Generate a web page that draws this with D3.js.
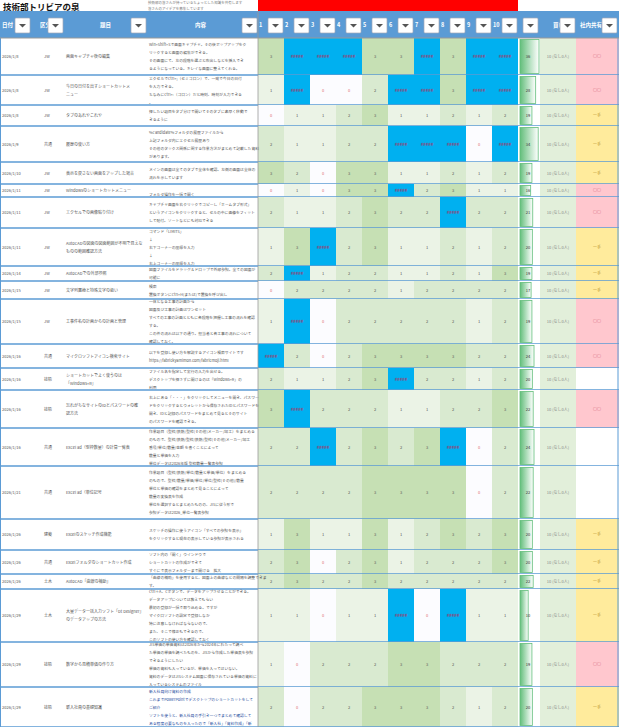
<!DOCTYPE html>
<html lang="ja">
<head>
<meta charset="utf-8">
<script src="https://d3js.org/d3.v7.min.js"></script>
<style>
body{margin:0;background:#fff;font-family:"Noto Sans CJK JP",sans-serif}
</style>
</head>
<body>
<script>
const dates = ["2026/1/8","2026/1/8","2026/1/8","2026/1/9","2026/1/10","2026/1/11","2026/1/11","2026/1/11","2026/1/14","2026/1/15","2026/1/15","2026/1/16","2026/1/16","2026/1/16","2026/1/16","2026/1/21","2026/1/26","2026/1/26","2026/1/26","2026/1/29","2026/1/29","2026/1/29"];
const kinds = ["JW","JW","JW","共通","JW","JW","JW","JW","JW","JW","JW","共通","技術","技術","共通","共通","建築","共通","土木","土木","技術","技術"];
const titles = [
  ["画面キャプチャ後の編集"],["今日の日付を出すショートカットメ","ニュー"],["タブのあれやこれや"],["履歴の使い方"],
  ["表示を戻さない画面をアップした場合"],["Windowsのショートカットメニュー"],["エクセルでの画像貼り付け"],
  ["AutoCADの図面の図面範囲が不明で見えな","ものの範囲確認方法"],["AutoCADでの外部参照"],["文字列置換と特殊文字の扱い"],
  ["工事件名の計画からの計画と管理"],["マイクロソフトアイコン検索サイト"],["ショートカットでよく使うのは","「Windows+R」"],
  ["忘れがちなサイトのIDとパスワードの確","認方法"],["ExCel ad（型枠数量）の計算一覧表"],["ExCel ad（単位記号"],
  ["Excelのスケッチ作成機能"],["Excelフォルダのショートカット作成"],["AutoCAD「曲線の補助」"],
  ["大量データ一括入力ソフト「Dt Designer」","のデータアップの方法"],["数字から見積単価の作り方"],["新入社員の基礎知識"]];
const contents = [
  ["Win+Shift+Sで画面キャプチャ。その後ポップアップをク","リックすると画面の編集ができる。","その画面にて、左の段階を選ぶと吹出しなどを挿入でき","るようになっている。キレイな画面に整えてくれる。"],
  ["エクセルでCtrl+;（セミコロン）で、一発で今日の日付","を入力できる。","ちなみにCtrl+:（コロン）だと時刻、時刻が入力できる","。"],
  ["探したい項目をタブ分けで開いてそのタブに素早く移動で","きるように"],
  ["%Candidate%フォルダの履歴ファイルから","上記フォルダ内にエクセル履歴あり","その他のタックス関係に関する作業方法がまとめて記載した資料","があります。"],
  ["メインの画面は全てのタブで全体を確認。左側の画面は全体の","流れを示しています"],
  ["","フォルダ操作を一括で開く"],
  ["キャプチャ画面を右クリックでコピーし「ホームタブ形式」","というアイコンをクリックすると、セルの中に画像をフィット","して貼付。ソートなどにも対応できる"],
  ["コマンド「LIMITS」","↓","右下コーナーの座標を入力","↓","右上コーナーの座標を入力"],
  ["図面ファイルをドラッグ＆ドロップで外部参照。全ての図面が","可能に"],
  ["検索","置換ボタンにCtrl+H(または)で置換を呼び出し"],
  ["一体となる工事の計画から","図面及び工事の計画はワンセット","すべての工事の計画とともに各段階を把握し工事の流れを確認","する。","この件の流れは以下の通り。担当者と各工事の流れについて","確認しておく。"],
  ["以下を登録し使い方を解説するアイコン検索サイトです","https://fabrickyamimon.com/fabricmoji.html"],
  ["ファイル名を指定して実行の入力を出せる。","デスクトップを探さずに開けるのは「Windows+R」の","利用"],
  ["右上にある「・・・」をクリックしてメニューを開き、パスワー","ドをクリックするとウォレットから保存されたIDとパスワードを","開き、IDと記録のパスワードをまとめて見るとそのサイト","のパスワードを確認できる。"],
  ["作業項目（型枠/鉄筋/型枠(その他)メーカー/加工）をまとめる","のもので、型枠/鉄筋/型枠/鉄筋/型枠(その他)メーカー/加工","番号/単位/数量/金額 を書くことによって","数量と単価を入力","単位データは2026年版 型枠数量一覧表参照"],
  ["作業項目（型枠/鉄筋/単位/数量と単価/単位）をまとめる","のもので、型枠/数量/単価/単位/単位/型枠(その他)/数量","単位と単価の確認をまとめて見ることによって","数量の変換表を作成","単位を選択するとまとめたものの、JISに従う形で","参照データは2026_単位一覧表参照"],
  ["スケッチの操作に使うアイコン「すべての参照を表示」","をクリックすると現在の表示している参照が表示される"],
  ["ソフト内の「開く」ウインドウで","ショートカットの作成ができて","すぐにで表示フォルダーまで開ける　拡大"],
  ["「曲線の補助」を使用すると、図面上の曲線などの間隔を調整できま","す。"],
  ["Ctrl＋A、Cボタンで、データをアップさせることができる。","データアップについては教えてもらい","最初の登録が一括で取り込める。ですが","マイクロソフトの設定で登録しなか","特に注意しなければならないので、","また、そこで修正もできるので、","このソフトの使い方を確認しておく"],
  ["JIS単価の単価資料は2026年から2024年にわたって調べ","た単価の単価を調べたものを、JISから作成した単価表を参照","できるようにしたい","単価の資料も入っているが、単価を入ってはいない。","資料のデータはJISシステム図面に保存されている単価の資料に","入っているシステムのファイル"],
  ["新入社員向け資料の作成","これまでPowerPointでデスクトップのショートカットをして","ご紹介","ソフトを使うと、新入社員の手引き一つでまとめて確認して","ある程度必要なものを入ったので「新入社」「資料作成」「新"]];
const scores = [
  [3,4,4,4,3,3,4,3,4,4],[1,4,0,0,2,4,4,3,4,4],[0,1,1,2,3,1,1,2,1,2],[2,1,1,2,2,4,4,4,0,4],
  [3,2,0,3,3,1,1,2,1,2],[0,1,0,3,3,4,2,3,1,1],[2,1,1,2,3,2,2,4,2,2],[1,3,4,2,3,1,1,2,1,2],
  [2,4,1,2,2,1,1,2,1,3],[0,2,2,2,2,1,2,2,2,2],[1,4,0,2,2,2,2,2,1,2],[4,2,0,2,3,3,3,3,2,2],
  [2,1,1,2,3,4,2,2,1,2],[3,4,2,2,2,1,1,2,2,3],[2,2,4,2,3,2,3,4,0,2],[2,2,2,2,3,3,3,3,0,2],
  [1,3,1,1,3,1,2,3,2,3],[2,3,0,2,3,1,2,2,2,3],[2,3,2,2,3,2,2,2,2,2],[1,1,0,1,1,4,0,4,1,1],
  [1,0,2,2,2,3,3,2,2,2],[2,0,2,2,3,3,3,2,1,2]];
const totals = [36,28,19,34,19,16,21,20,19,17,19,24,20,22,24,22,20,20,22,10,19,20];
const share = ["p","p","y","y","y","p","p","y","y","y","p","p","w","p","w","w","y","y","y","y","p","y"];
const rowEdges = [38,75,105,126,162,184,197,228,266,281,299,344,368,390,428,466,519,550,574,589,642,687,727];
const scoreHeads = ["1","2","3","4","5","6","7","8","9","10"];

const W = 619, H = 727;
const svg = d3.select("body").append("svg").attr("width", W).attr("height", H)
  .style("font-family", "'Noto Sans CJK JP', sans-serif");

const x = d3.scaleBand().domain(d3.range(10)).range([258, 518]);
const y = i => rowEdges[i];
const barX = d3.scaleLinear().domain([0, 36]).range([4, 19]);
const fillFor = v => v === 4 ? "#00b0f0" : ["#fcfcff","#ebf3e6","#d9ead0","#c6e0b4"][v];

const grad = svg.append("defs").append("linearGradient").attr("id", "gbar");
grad.append("stop").attr("offset", "0%").attr("stop-color", "#63be7b");
grad.append("stop").attr("offset", "100%").attr("stop-color", "#fff");

// title + top area
svg.append("text").attr("x", 3).attr("y", 10).text("技術部トリビアの泉")
  .attr("font-size", 8.5).attr("font-weight", "bold").attr("fill", "#111");
["技術部の皆さんが持っているちょっとした知識を共有します","皆さんのアイデアを募集しています"].forEach((t, i) =>
  svg.append("text").attr("x", 148).attr("y", 4 + i * 6).text(t).attr("font-size", 3.5).attr("fill", "#777"));
svg.append("rect").attr("x", 258).attr("y", 0).attr("width", 260).attr("height", 11).attr("fill", "#ff0000");

// header
svg.append("rect").attr("x", 0).attr("y", 11).attr("width", W).attr("height", 27).attr("fill", "#5b9bd5");
const heads = [
  {t:"日付", x:2, b:15},{t:"区分", x:40, b:48},{t:"題目", x:100, b:131},{t:"内容", x:195, b:242}];
scoreHeads.forEach((t, i) => heads.push({t: t, x: x(i) + 1, b: x(i) + 10}));
heads.push({t:"", x:520, b:523});
heads.push({t:"買い入", x:553, b:560});
heads.push({t:"社内共有", x:580, b:602});
heads.forEach(h => {
  if (h.t) svg.append("text").attr("x", h.x).attr("y", 27).text(h.t)
    .attr("font-size", 5.5).attr("font-weight", "bold").attr("fill", "#fff");
  svg.append("rect").attr("x", h.b).attr("y", 18).attr("width", 15).attr("height", 15)
    .attr("fill", "#fff").attr("stroke", "#a0a8b8").attr("stroke-width", 0.7).attr("rx", 1);
  svg.append("path").attr("d", `M${h.b + 4},${24}h7l-3.5,3.5z`).attr("fill", "#555");
});

// rows
const rows = svg.selectAll("g.row").data(dates).join("g").attr("class", "row");
rows.each(function (d, i) {
  const g = d3.select(this), y0 = y(i), y1 = y(i + 1), mid = (y0 + y1) / 2;
  g.selectAll("rect.sc").data(scores[i]).join("rect")
    .attr("x", (v, j) => x(j)).attr("y", y0).attr("width", x.bandwidth()).attr("height", y1 - y0)
    .attr("fill", fillFor);
  g.selectAll("text.sc").data(scores[i]).join("text")
    .attr("x", (v, j) => x(j) + x.bandwidth() / 2).attr("y", mid + 1.5).attr("text-anchor", "middle")
    .attr("font-size", v => v === 4 ? 4.5 : 4).attr("fill", v => v === 4 ? "#c0143c" : v === 0 ? "#e07070" : "#555")
    .text(v => v === 4 ? "#####" : v);
  g.append("rect").attr("x", 518).attr("y", y0).attr("width", 22).attr("height", y1 - y0).attr("fill", "#fff");
  g.append("rect").attr("x", 520).attr("y", y0 + 1.5).attr("width", barX(totals[i])).attr("height", y1 - y0 - 3)
    .attr("fill", "url(#gbar)").attr("stroke", "#63be7b").attr("stroke-width", 0.8);
  g.append("text").attr("x", 528).attr("y", mid + 1.5).attr("text-anchor", "middle").attr("font-size", 4)
    .attr("fill", "#333").text(totals[i]);
  g.append("rect").attr("x", 540).attr("y", y0).attr("width", 36).attr("height", y1 - y0).attr("fill", "#e2efda");
  g.append("text").attr("x", 558).attr("y", mid + 1.5).attr("text-anchor", "middle").attr("font-size", 4)
    .attr("fill", "#888").text("10 (なし0人)");
  const sc = {p:"#ffc7ce", y:"#ffeb9c", w:"#fff"}[share[i]];
  g.append("rect").attr("x", 576).attr("y", y0).attr("width", 43).attr("height", y1 - y0).attr("fill", sc);
  if (share[i] !== "w") g.append("text").attr("x", 597).attr("y", mid + 1.5).attr("text-anchor", "middle")
    .attr("font-size", 4).attr("fill", share[i] === "p" ? "#e08090" : "#b8902a").text(share[i] === "p" ? "〇〇" : "一手");
  g.append("text").attr("x", 2).attr("y", mid + 1.5).attr("font-size", 4).attr("fill", "#555").text(d);
  g.append("text").attr("x", 44).attr("y", mid + 1.5).attr("font-size", 4).attr("fill", "#555").text(kinds[i]);
  const tl = titles[i];
  tl.forEach((t, k) => g.append("text").attr("x", 66).attr("y", mid + 1.5 + (k - (tl.length - 1) / 2) * 8)
    .attr("font-size", 4).attr("fill", "#555").text(t));
  const cl = contents[i], step = Math.min(8, (y1 - y0 - 2) / Math.max(cl.length, 1) + 1.5);
  cl.forEach((t, k) => g.append("text").attr("x", 149).attr("y", mid + 1.5 + (k - (cl.length - 1) / 2) * step)
    .attr("font-size", 3.8).attr("fill", i === 21 ? "#1f4e9e" : "#555").text(t));
  g.append("line").attr("x1", 0).attr("x2", W).attr("y1", y1).attr("y2", y1)
    .attr("stroke", "#5b9bd5").attr("stroke-width", 1.3);
});

svg.append("line").attr("x1", 258).attr("x2", 258).attr("y1", 11).attr("y2", H).attr("stroke", "#999").attr("stroke-width", 0.8);
svg.append("line").attr("x1", 0.5).attr("x2", 0.5).attr("y1", 38).attr("y2", H).attr("stroke", "#5b9bd5").attr("stroke-width", 1);
svg.append("line").attr("x1", 618).attr("x2", 618).attr("y1", 11).attr("y2", H).attr("stroke", "#5b9bd5").attr("stroke-width", 1);
svg.append("line").attr("x1", 0).attr("x2", W).attr("y1", 38).attr("y2", 38).attr("stroke", "#999").attr("stroke-width", 1);
</script>
</body>
</html>
